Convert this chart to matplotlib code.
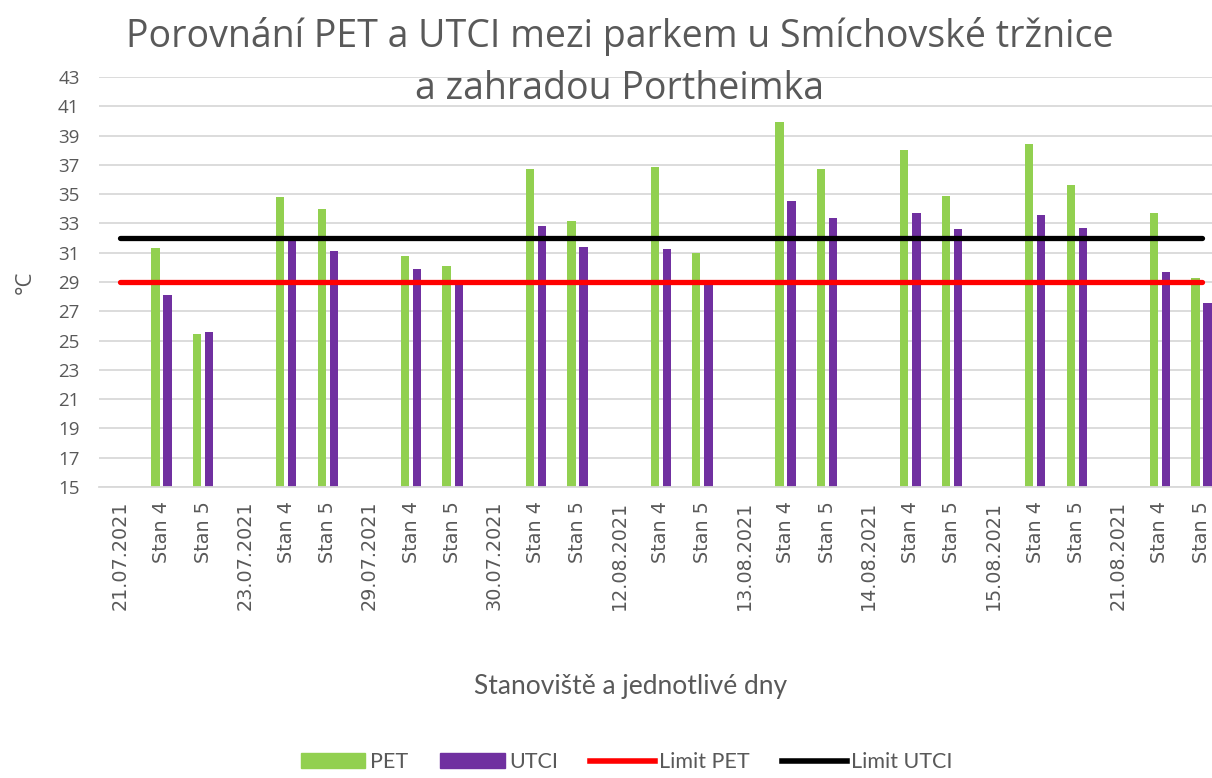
import numpy as np
import matplotlib.pyplot as plt
from matplotlib.patches import Patch
from matplotlib.lines import Line2D

# category labels: each date followed by two stations
dates = ["21.07.2021", "23.07.2021", "29.07.2021", "30.07.2021", "12.08.2021",
         "13.08.2021", "14.08.2021", "15.08.2021", "21.08.2021"]
stations = ["Stan 4", "Stan 5"]

pet_stan4 = [31.3, 34.8, 30.8, 36.7, 36.85, 39.9, 38.0, 38.4, 33.7]
pet_stan5 = [25.45, 34.0, 30.1, 33.2, 31.0, 36.7, 34.9, 35.6, 29.3]
utci_stan4 = [28.1, 31.9, 29.9, 32.8, 31.25, 34.5, 33.7, 33.6, 29.7]
utci_stan5 = [25.6, 31.1, 28.9, 31.4, 28.9, 33.4, 32.6, 32.7, 27.6]

limit_pet = 29
limit_utci = 32

GREEN = "#92D050"
PURPLE = "#7030A0"
GRAY_TXT = "#595959"

labels = []
pet = []
utci = []
for i, d in enumerate(dates):
    labels += [d, stations[0], stations[1]]
    pet += [np.nan, pet_stan4[i], pet_stan5[i]]
    utci += [np.nan, utci_stan4[i], utci_stan5[i]]
pet = np.array(pet)
utci = np.array(utci)
x = np.arange(len(labels))
mask = ~np.isnan(pet)

fig = plt.figure(figsize=(12.12, 7.78), dpi=100)
ax = fig.add_axes([0.0817, 0.374, 0.9183, 0.527])

bw = 0.2
off = 0.145
ax.bar(x[mask] - off, pet[mask], width=bw, color=GREEN, zorder=2)
ax.bar(x[mask] + off, utci[mask], width=bw, color=PURPLE, zorder=2)
ax.plot(x, np.full(len(x), limit_pet), color="#FF0000", lw=3.8,
        solid_capstyle="round", zorder=3)
ax.plot(x, np.full(len(x), limit_utci), color="black", lw=3.8,
        solid_capstyle="round", zorder=3)

ax.set_ylim(15, 43)
ax.set_yticks(np.arange(15, 44, 2))
ax.set_xlim(-0.5, 26.25)
ax.set_xticks(x)
ax.set_xticklabels(labels, rotation=90, fontsize=13.8, color=GRAY_TXT,
                   family="DejaVu Sans")
ax.tick_params(axis="y", labelsize=13.5, colors=GRAY_TXT, length=0, pad=14)
ax.tick_params(axis="x", length=0, pad=10)
for lab in ax.get_yticklabels():
    lab.set_family("Open Sans")
ax.grid(axis="y", color="#D9D9D9", lw=1.3, zorder=0)
ax.set_axisbelow(True)
for s in ["top", "right", "left"]:
    ax.spines[s].set_visible(False)
ax.spines["bottom"].set_color("#D9D9D9")
ax.spines["bottom"].set_linewidth(1.3)

ax.set_ylabel("°C", fontsize=16, color=GRAY_TXT, family="Open Sans", labelpad=16)
fig.text(0.52, 0.118, "Stanoviště a jednotlivé dny", ha="center", va="center",
         fontsize=19, color=GRAY_TXT, family="Lato")

fig.text(0.511, 0.953, "Porovnání PET a UTCI mezi parkem u Smíchovské tržnice",
         ha="center", va="center", fontsize=27, color=GRAY_TXT, family="Open Sans")
fig.text(0.511, 0.886, "a zahradou Portheimka",
         ha="center", va="center", fontsize=27, color=GRAY_TXT, family="Open Sans")

handles = [Patch(color=GREEN), Patch(color=PURPLE),
           Line2D([], [], color="#FF0000", lw=4), Line2D([], [], color="black", lw=4)]
leg = fig.legend(handles, ["PET", "UTCI", "Limit PET", "Limit UTCI"], loc="center",
                 bbox_to_anchor=(0.517, 0.02), ncol=4, frameon=False,
                 prop={"family": "Lato", "size": 15.5}, handlelength=3.0,
                 handletextpad=0.2, columnspacing=1.5, borderpad=0.1)
for t in leg.get_texts():
    t.set_color(GRAY_TXT)

fig.savefig("out.png", dpi=100)
